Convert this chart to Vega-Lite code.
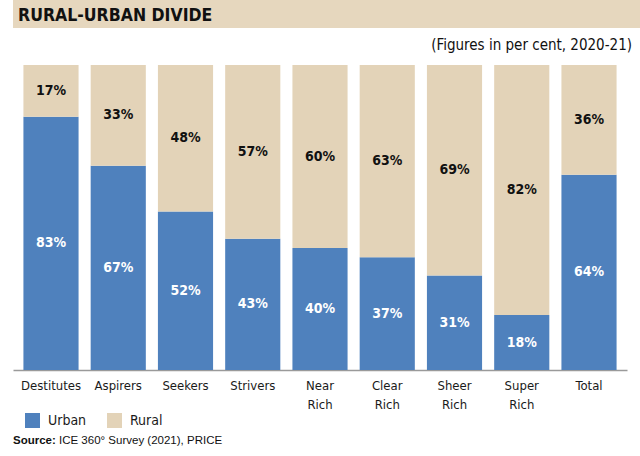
{
  "$schema": "https://vega.github.io/schema/vega-lite/v6.json",
  "padding": {"left": 13, "top": 0, "right": 0, "bottom": 0},
  "autosize": {"type": "pad"},
  "background": "white",
  "spacing": 10,
  "config": {
    "font": "DejaVu Sans Condensed, Liberation Sans, sans-serif",
    "view": {"stroke": null}
  },
  "datasets": {
    "main": [
      {"group": "Destitutes", "type": "Urban", "share": 0.83},
      {"group": "Destitutes", "type": "Rural", "share": 0.17},
      {"group": "Aspirers", "type": "Urban", "share": 0.67},
      {"group": "Aspirers", "type": "Rural", "share": 0.33},
      {"group": "Seekers", "type": "Urban", "share": 0.52},
      {"group": "Seekers", "type": "Rural", "share": 0.48},
      {"group": "Strivers", "type": "Urban", "share": 0.43},
      {"group": "Strivers", "type": "Rural", "share": 0.57},
      {"group": "Near Rich", "type": "Urban", "share": 0.40},
      {"group": "Near Rich", "type": "Rural", "share": 0.60},
      {"group": "Clear Rich", "type": "Urban", "share": 0.37},
      {"group": "Clear Rich", "type": "Rural", "share": 0.63},
      {"group": "Sheer Rich", "type": "Urban", "share": 0.31},
      {"group": "Sheer Rich", "type": "Rural", "share": 0.69},
      {"group": "Super Rich", "type": "Urban", "share": 0.18},
      {"group": "Super Rich", "type": "Rural", "share": 0.82},
      {"group": "Total", "type": "Urban", "share": 0.64},
      {"group": "Total", "type": "Rural", "share": 0.36}
    ]
  },
  "vconcat": [
    {
      "width": 627,
      "height": 28,
      "view": {"fill": "#e6d7be", "stroke": null},
      "data": {"values": [{"title": "RURAL-URBAN DIVIDE"}]},
      "mark": {"type": "text", "align": "left", "baseline": "middle", "font": "DejaVu Sans Condensed, Liberation Sans, sans-serif", "fontWeight": "bold", "fontSize": 17.5, "color": "#111111", "x": 5, "y": 16},
      "encoding": {"text": {"field": "title", "type": "nominal"}}
    },
    {
      "width": 614,
      "height": 305,
      "title": {"text": "(Figures in per cent, 2020-21)", "anchor": "end", "fontSize": 15, "fontWeight": "normal", "font": "DejaVu Sans Condensed, Liberation Sans, sans-serif", "color": "#111111", "offset": 12, "dx": 5},
      "data": {"name": "main"},
      "encoding": {
        "x": {
          "field": "group", "type": "nominal", "sort": null,
          "scale": {"paddingInner": 0.18, "paddingOuter": 0.155},
          "axis": {"title": null, "labelAngle": 0, "labelFontSize": 13, "labelFont": "DejaVu Sans Condensed, Liberation Sans, sans-serif", "labelColor": "#1a1a1a", "ticks": false, "domainColor": "#9a9a9a", "domainWidth": 1.5, "labelPadding": 9, "labelExpr": "split(datum.label, ' ')", "labelLineHeight": 19, "labelBaseline": "top"}
        }
      },
      "layer": [
        {
          "mark": {"type": "bar"},
          "encoding": {
            "y": {"field": "share", "type": "quantitative", "stack": "zero", "scale": {"domain": [0, 1], "nice": false}, "axis": null},
            "color": {
              "field": "type", "type": "nominal",
              "scale": {"domain": ["Urban", "Rural"], "range": ["#4f81bd", "#e3d3b8"]},
              "legend": {"orient": "none", "legendX": 12, "legendY": 413, "direction": "horizontal", "title": null, "symbolType": "square", "symbolSize": 225, "symbolStrokeWidth": 0, "symbolOpacity": 1, "labelFontSize": 14, "labelFont": "DejaVu Sans Condensed, Liberation Sans, sans-serif", "labelColor": "#1a1a1a", "columnPadding": 20, "labelOffset": 8}
            },
            "order": {"field": "type", "sort": "descending"}
          }
        },
        {
          "transform": [{"filter": "datum.type === 'Urban'"}],
          "mark": {"type": "text", "fontWeight": "bold", "fontSize": 14, "color": "white", "baseline": "middle", "font": "DejaVu Sans Condensed, Liberation Sans, sans-serif"},
          "encoding": {
            "y": {"field": "share", "type": "quantitative", "scale": {"domain": [0, 2], "nice": false}, "axis": null},
            "text": {"field": "share", "type": "quantitative", "format": ".0%"}
          }
        },
        {
          "transform": [{"filter": "datum.type === 'Rural'"}],
          "mark": {"type": "text", "fontWeight": "bold", "fontSize": 14, "color": "#111111", "baseline": "middle", "font": "DejaVu Sans Condensed, Liberation Sans, sans-serif"},
          "encoding": {
            "y": {"field": "share", "type": "quantitative", "scale": {"domain": [2, 0], "nice": false}, "axis": null},
            "text": {"field": "share", "type": "quantitative", "format": ".0%"}
          }
        }
      ],
      "resolve": {"scale": {"y": "independent"}}
    },
    {
      "width": 627,
      "height": 28,
      "layer": [
        {
          "data": {"values": [{"t": "Source:"}]},
          "mark": {"type": "text", "align": "left", "baseline": "middle", "font": "Liberation Sans", "fontWeight": "bold", "fontSize": 11.5, "color": "#111111", "x": 0, "y": 20},
          "encoding": {"text": {"field": "t", "type": "nominal"}}
        },
        {
          "data": {"values": [{"t": "ICE 360° Survey (2021), PRICE"}]},
          "mark": {"type": "text", "align": "left", "baseline": "middle", "font": "Liberation Sans", "fontWeight": "normal", "fontSize": 11.5, "color": "#111111", "x": 46, "y": 20},
          "encoding": {"text": {"field": "t", "type": "nominal"}}
        }
      ]
    }
  ]
}
